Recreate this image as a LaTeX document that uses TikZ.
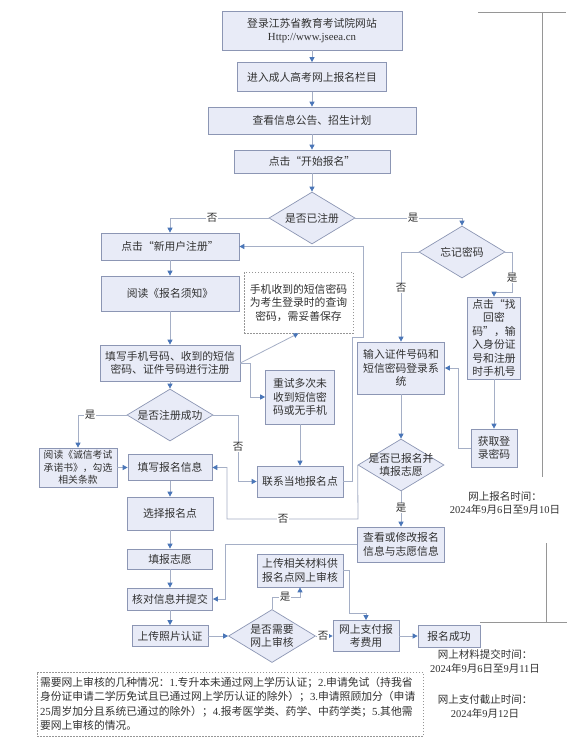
\documentclass[tikz,border=0pt]{standalone}
\usepackage{fontspec}
\setmainfont{Noto Sans CJK SC}
\newfontfamily\lat{Liberation Serif}
\usetikzlibrary{arrows.meta,shapes.geometric}
\definecolor{boxfill}{RGB}{232,235,247}
\definecolor{boxdraw}{RGB}{140,150,180}
\definecolor{linec}{RGB}{165,175,198}
\definecolor{arrowc}{RGB}{74,118,184}
\definecolor{txt}{RGB}{50,50,50}
\definecolor{brk}{RGB}{150,150,150}
\begin{document}
\begin{tikzpicture}[x=1pt,y=-1pt,
  box/.style={draw=boxdraw,fill=boxfill,line width=0.7pt,inner sep=0pt,align=center,text=txt,font=\fontsize{10.8}{13.5}\selectfont},
  dia/.style={diamond,draw=boxdraw,fill=boxfill,line width=0.7pt,inner sep=0pt,minimum width=86pt,minimum height=52pt},
  dtxt/.style={align=center,text=txt,inner sep=0pt,font=\fontsize{10.8}{13.5}\selectfont},
  notebox/.style={draw=brk,dash pattern=on 1.5pt off 1.5pt,line width=0.6pt,fill=white,text=txt,inner sep=3pt},
  arr/.style={draw=linec,line width=0.8pt,-{Triangle[length=5pt,width=5pt,color=arrowc]}},
  lab/.style={fill=white,inner sep=0.6pt,text=txt,font=\fontsize{10.5}{12}\selectfont},
  side/.style={align=center,text=txt,inner sep=0pt,font=\fontsize{10.5}{13.2}\selectfont},
  brkline/.style={draw=brk,line width=0.8pt}]
\useasboundingbox (0,0) rectangle (569,749);
\fill[white] (0,0) rectangle (569,749);

% right bracket lines
\draw[brkline] (478,12) -- (566,12);
\draw[brkline] (542,12) -- (542,477);
\draw[brkline] (546,543) -- (546,622);
\draw[brkline] (480,622) -- (567,622);

% main column
\node[box,minimum width=180pt,minimum height=39pt] (n1) at (312,30.5) {登录江苏省教育考试院网站\\{\lat Http://www.jseea.cn}};
\node[box,minimum width=149pt,minimum height=29pt] (n2) at (312,77) {进入成人高考网上报名栏目};
\node[box,minimum width=208pt,minimum height=27pt] (n3) at (312,120.5) {查看信息公告、招生计划};
\node[box,minimum width=156pt,minimum height=23pt] (n4) at (312,161.5) {点击“开始报名”};
\node[dia] (d1) at (312,218) {};
\node[dtxt] at (d1) {是否已注册};

% left column
\node[box,minimum width=138pt,minimum height=27pt] (n5) at (170,246.5) {点击“新用户注册”};
\node[box,minimum width=138pt,minimum height=35pt] (n6) at (170,293.5) {阅读《报名须知》};
\node[box,minimum width=140pt,minimum height=36pt] (n7) at (170,363) {填写手机号码、收到的短信\\密码、证件号码进行注册};
\node[notebox,align=center,inner sep=0pt,minimum width=109pt,minimum height=61pt,font=\fontsize{10.8}{13.5}\selectfont] (note1) at (298.5,302.5) {手机收到的短信密码\\为考生登录时的查询\\密码，需妥善保存};
\node[box,minimum width=69pt,minimum height=54pt] (n8) at (300,397) {重试多次未\\收到短信密\\码或无手机};
\node[dia] (d2) at (170,415) {};
\node[dtxt] at (d2) {是否注册成功};
\node[box,minimum width=78pt,minimum height=39pt,font=\fontsize{9.8}{12.5}\selectfont] (n9) at (78,467.5) {阅读《诚信考试\\承诺书》，勾选\\相关条款};
\node[box,minimum width=84pt,minimum height=26pt] (n10) at (170,467.5) {填写报名信息};
\node[box,minimum width=86pt,minimum height=31pt] (n11) at (300,481.5) {联系当地报名点};
\node[box,minimum width=86pt,minimum height=33pt] (n12) at (170,513.5) {选择报名点};
\node[box,minimum width=85pt,minimum height=20pt] (n13) at (170,559) {填报志愿};
\node[box,minimum width=85pt,minimum height=22pt] (n14) at (170,599) {核对信息并提交};
\node[box,minimum width=76pt,minimum height=21pt] (n15) at (170,636) {上传照片认证};
\node[dia,minimum width=87pt,minimum height=53pt] (d3) at (272,636) {};
\node[dtxt] at (d3) {是否需要\\网上审核};
\node[box,minimum width=86pt,minimum height=33pt] (n16) at (300,570.5) {上传相关材料供\\报名点网上审核};
\node[box,minimum width=66pt,minimum height=31pt] (n17) at (366,636) {网上支付报\\考费用};
\node[box,minimum width=62pt,minimum height=22pt] (n18) at (449,636) {报名成功};

% right part
\node[dia] (d4) at (462,252) {};
\node[dtxt] at (d4) {忘记密码};
\node[box,minimum width=87pt,minimum height=52pt] (n19) at (401,368) {输入证件号码和\\短信密码登录系\\统};
\node[box,minimum width=53pt,minimum height=82pt] (n20) at (494,338) {点击“找\\回密\\码”，输\\入身份证\\号和注册\\时手机号};
\node[box,minimum width=46pt,minimum height=38pt] (n21) at (494,448) {获取登\\录密码};
\node[dia] (d5) at (401,465) {};
\node[dtxt] at (d5) {是否已报名并\\填报志愿};
\node[box,minimum width=87pt,minimum height=35pt] (n22) at (401,544.5) {查看或修改报名\\信息与志愿信息};

% connectors
\draw[arr] (n1.south) -- (n2.north);
\draw[arr] (n2.south) -- (n3.north);
\draw[arr] (n3.south) -- (n4.north);
\draw[arr] (n4.south) -- (d1.north);
\draw[arr] (d1.west) -| (n5.north);
\draw[arr] (d1.east) -| (d4.north);
\draw[arr] (n5.south) -- (n6.north);
\draw[arr] (n6.south) -- (n7.north);
\draw[arr] (n7.east) -- (note1.south);
\draw[arr] (n7.east) -- (250,363) |- (n8.west);
\draw[arr] (n8.south) -- (n11.north);
\draw[arr] (n7.south) -- (d2.north);
\draw[arr] (d2.west) -| (n9.north);
\draw[arr] (d2.east) -- (238,415) |- (n11.west);
\draw[arr] (n9.east) -- (n10.west);
\draw[arr] (n10.south) -- (n12.north);
\draw[arr] (n12.south) -- (n13.north);
\draw[arr] (n13.south) -- (n14.north);
\draw[arr] (n14.south) -- (n15.north);
\draw[arr] (n15.east) -- (d3.west);
\draw[arr] (d3.north) -- (272,597) -| (n16.south);
\draw[arr] (d3.east) -- (n17.west);
\draw[arr] (n16.east) -- (349,570.5) -- (349,613) -| (n17.north);
\draw[arr] (n17.east) -- (n18.west);
\draw[arr] (n11.east) -- (352,481.5) -- (352,337) -- (363,337) -- (363,246.5) -- (n5.east);
\draw[arr] (d4.west) -| (n19.north);
\draw[arr] (d4.east) -- (512,252) -- (512,292) -- (494,292) -- (n20.north);
\draw[arr] (n20.south) -- (n21.north);
\draw[arr] (n21.west) -- (458,448) |- (n19.east);
\draw[arr] (n19.south) -- (d5.north);
\draw[arr] (d5.south) -- (n22.north);
\draw[arr] (d5.west) -- (358,519) -- (227,519) |- (n10.east);
\draw[arr] (n22.west) -- (225,544.5) |- (n14.east);

% labels
\node[lab] at (212,218) {否};
\node[lab] at (413,218) {是};
\node[lab] at (401,288) {否};
\node[lab] at (512,278) {是};
\node[lab] at (90,415) {是};
\node[lab] at (238,447) {否};
\node[lab] at (283,519) {否};
\node[lab] at (401,508) {是};
\node[lab] at (285,597) {是};
\node[lab] at (323,636) {否};

% side texts
\node[side] (t1) at (505,503) {网上报名时间：\\{\lat 2024}年{\lat 9}月{\lat 6}日至{\lat 9}月{\lat 10}日};
\node[side] (t2) at (485,661.5) {网上材料提交时间：\\{\lat 2024}年{\lat 9}月{\lat 6}日至{\lat 9}月{\lat 11}日};
\node[side] (t3) at (485,706.5) {网上支付截止时间：\\{\lat 2024}年{\lat 9}月{\lat 12}日};

% bottom note
\node[notebox,align=left,text width=380pt,minimum height=64pt,font=\fontsize{10.8}{14.5}\selectfont] (note2) at (230,704) {需要网上审核的几种情况：{\lat 1.}专升本未通过网上学历认证；{\lat 2.}申请免试（持我省\\身份证申请二学历免试且已通过网上学历认证的除外）；{\lat 3.}申请照顾加分（申请\\{\lat 25}周岁加分且系统已通过的除外）；{\lat 4.}报考医学类、药学、中药学类；{\lat 5.}其他需\\要网上审核的情况。};
\end{tikzpicture}
\end{document}
